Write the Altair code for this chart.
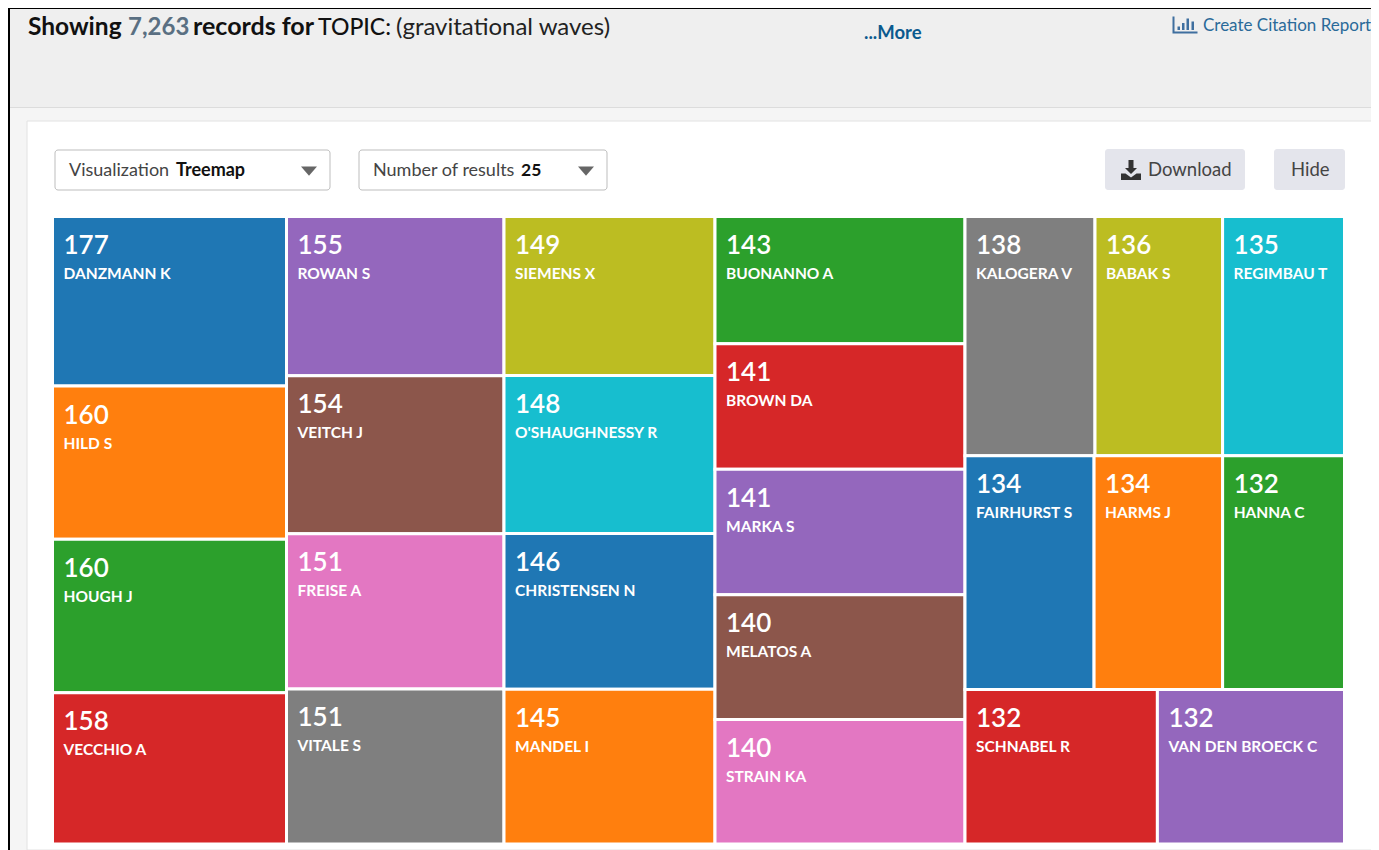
import altair as alt
import pandas as pd

authors = ["DANZMANN K", "HILD S", "HOUGH J", "VECCHIO A",
           "ROWAN S", "VEITCH J", "FREISE A", "VITALE S",
           "SIEMENS X", "O'SHAUGHNESSY R", "CHRISTENSEN N", "MANDEL I",
           "BUONANNO A", "BROWN DA", "MARKA S", "MELATOS A", "STRAIN KA",
           "KALOGERA V", "BABAK S", "REGIMBAU T",
           "FAIRHURST S", "HARMS J", "HANNA C",
           "SCHNABEL R", "VAN DEN BROECK C"]
counts = [177, 160, 160, 158,
          155, 154, 151, 151,
          149, 148, 146, 145,
          143, 141, 141, 140, 140,
          138, 136, 135,
          134, 134, 132,
          132, 132]
column_sizes = [4, 4, 4, 5]
block_row_sizes = [3, 3, 2]

FONT = "Lato"
W, H = 1363, 842

# treemap layout derived from the counts
rows = []
i = 0
x_start = 0
breaks = [0]
for n in column_sizes:
    vals = counts[i:i + n]
    tot = sum(vals)
    y_start = 0
    for k in range(n):
        rows.append(dict(author=authors[i + k], n=vals[k], x0=x_start, x1=x_start + tot,
                         y0=y_start / tot, y1=(y_start + vals[k]) / tot))
        y_start += vals[k]
    x_start += tot
    breaks.append(x_start)
    i += n
block_tot = sum(counts[i:])
first_row = counts[i:i + block_row_sizes[0]]
breaks.append(x_start + block_tot * first_row[0] / sum(first_row))
breaks.append(x_start + block_tot * (first_row[0] + first_row[1]) / sum(first_row))
y_start = 0
for n in block_row_sizes:
    vals = counts[i:i + n]
    tot = sum(vals)
    x_run = 0
    for k in range(n):
        rows.append(dict(author=authors[i + k], n=vals[k],
                         x0=x_start + block_tot * x_run / tot,
                         x1=x_start + block_tot * (x_run + vals[k]) / tot,
                         y0=y_start / block_tot, y1=(y_start + tot) / block_tot))
        x_run += vals[k]
    y_start += tot
    i += n
breaks.append(x_start + block_tot)
df = pd.DataFrame(rows)

x_scale = alt.Scale(domain=breaks, range=[44.5, 278.5, 496, 707, 957, 1087, 1214.6, 1336.5],
                    nice=False, zero=False)
y_scale = alt.Scale(domain=[0, 1], range=[208.5, 836], nice=False, zero=False)
color_scale = alt.Scale(domain=authors, scheme="category10")

base = alt.Chart(df)
cells = base.mark_rect(stroke="white", strokeWidth=3).encode(
    x=alt.X("x0:Q", scale=x_scale, axis=None),
    x2="x1:Q",
    y=alt.Y("y0:Q", scale=y_scale, axis=None),
    y2="y1:Q",
    color=alt.Color("author:N", scale=color_scale, legend=None),
)
num_text = base.mark_text(align="left", baseline="alphabetic", dx=11, dy=37.5, font=FONT, fontSize=26,
                          fontWeight=600, color="white").encode(
    x=alt.X("x0:Q", scale=x_scale, axis=None),
    y=alt.Y("y0:Q", scale=y_scale, axis=None),
    text="n:Q",
)
name_text = base.mark_text(align="left", baseline="alphabetic", dx=11, dy=62.5, font=FONT, fontSize=15.5,
                           fontWeight="bold", color="white").encode(
    x=alt.X("x0:Q", scale=x_scale, axis=None),
    y=alt.Y("y0:Q", scale=y_scale, axis=None),
    text="author:N",
)


def box(x0, y0, x1, y1, fill, stroke=None, radius=0):
    kw = dict(fill=fill, cornerRadius=radius)
    if stroke:
        kw.update(stroke=stroke, strokeWidth=1)
    return alt.Chart(df.head(1)).mark_rect(**kw).encode(
        x=alt.value(x0 - 8), x2=alt.value(x1 - 8), y=alt.value(y0 - 8), y2=alt.value(y1 - 8))


def label(s, x, y, size, color="#333333", weight="normal"):
    return alt.Chart(df.head(1)).mark_text(
        text=s, align="left", baseline="alphabetic", font=FONT, fontSize=size,
        fontWeight=weight, color=color).encode(x=alt.value(x - 8), y=alt.value(y - 8))


def glyph(path, x, y, size, color):
    return alt.Chart(df.head(1)).mark_point(
        shape=path, filled=True, size=size, color=color, opacity=1).encode(
        x=alt.value(x - 8), y=alt.value(y - 8))


TRI = "M-1,-0.55 L1,-0.55 L0,0.6 Z"
DOWNLOAD = "M-0.25,-1 H0.25 V-0.2 H0.6 L0,0.4 L-0.6,-0.2 H-0.25 Z M-1,0.35 H-0.55 L0,0.75 L0.55,0.35 H1 V1 H-1 Z"
BARS = ("M-1.25,-0.85 H-1.05 V0.65 H1.25 V0.85 H-1.25 Z M-0.75,0.15 H-0.5 V0.5 H-0.75 Z M-0.3,-0.2 H-0.05 V0.5 H-0.3 Z "
        "M0.15,-0.65 H0.4 V0.5 H0.15 Z M0.65,-0.35 H0.9 V0.5 H0.65 Z")

chrome = [
    box(8, 7, 1379, 850, "#f5f5f5"),
    box(8, 7, 1379, 9, "#000000"),
    box(8, 7, 10, 850, "#000000"),
    box(10, 9, 1379, 107, "#efefef"),
    box(10, 107, 1379, 108, "#dcdcdc"),
    box(27, 121, 1373, 850, "#ffffff", "#e2e2e2"),
    box(55, 150, 330, 190, "#ffffff", "#bdbdbd", 3),
    box(359, 150, 607, 190, "#ffffff", "#bdbdbd", 3),
    box(1105, 149, 1245, 190, "#e4e5ec", None, 3),
    box(1274, 149, 1345, 190, "#e4e5ec", None, 3),
    glyph(TRI, 309, 171, 256, "#666666"),
    glyph(TRI, 586, 171, 256, "#666666"),
    glyph(DOWNLOAD, 1131, 170, 400, "#333333"),
    glyph(BARS, 1185, 25, 400, "#3f6f9f"),
    label("Showing", 28, 35, 24.5, "#111111", "bold"),
    label("7,263", 128, 35, 24, "#5a6f82", "bold"),
    label("records for", 193, 35, 25, "#111111", "bold"),
    label("TOPIC:", 318, 35, 23, "#111111", 500),
    label("(gravitational waves)", 396, 35, 24, "#222222"),
    label("...More", 864, 39, 18.5, "#0b5a8e", "bold"),
    label("Create Citation Report", 1203, 31, 17, "#2a6a99"),
    label("Visualization", 69, 176, 18, "#444444"),
    label("Treemap", 176, 176, 18, "#111111", "bold"),
    label("Number of results", 373, 176, 18, "#444444"),
    label("25", 521, 176, 17.5, "#111111", "bold"),
    label("Download", 1148, 176, 18.5, "#444444"),
    label("Hide", 1291, 176, 18.5, "#444444"),
]

chart = alt.layer(*chrome, cells, num_text, name_text).properties(
    width=W, height=H, padding=0, background="white",
    autosize=alt.AutoSizeParams(type="none"),
).configure_view(stroke=None)

chart.save("out.html", embed_options={"renderer": "svg", "actions": False})
